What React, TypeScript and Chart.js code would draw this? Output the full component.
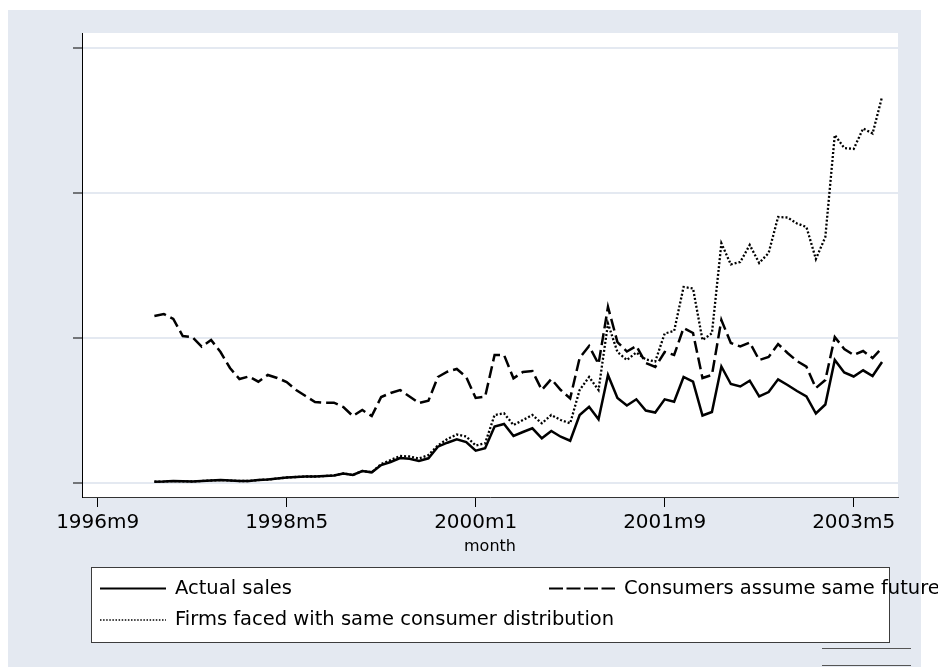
import React, { useEffect, useRef } from 'react';
import { Chart, registerables } from 'chart.js';

Chart.register(...registerables);

// Stata %tm month index (months since 1960m1); first observation is 1997m3
const START_MONTH = 446;

const seriesLabels = [
  'Actual sales',
  'Consumers assume same future',
  'Firms faced with same consumer distribution',
];

const actualSales = [
  0.28, 0.35, 0.52, 0.41, 0.35, 0.52, 0.69, 0.86, 0.69, 0.52, 0.52, 0.86, 1.04, 1.38, 1.73, 1.9, 2.07, 2.07, 2.24, 2.42, 3.11, 2.59, 3.97, 3.52,
  6.04, 7.08, 8.46, 8.22, 7.42, 8.36, 12.36, 13.74, 14.92, 13.98,
  10.98, 11.81, 19.34, 20.2, 16.06, 17.44, 18.72, 15.26, 17.78, 15.81,
  14.43, 23.31, 26.17, 21.82, 37.12, 29.18, 26.59, 28.73, 24.86, 24.17,
  28.73, 27.9, 36.43, 34.81, 23.14, 24.34, 40.05, 34.01, 33.15, 35.15,
  29.7, 31.25, 35.63, 33.67, 31.6, 29.7, 23.83, 26.93, 42.3, 37.98,
  36.6, 38.74, 36.77, 41.61,
];

const consumersSameFuture = [
  57.49, 58.18, 56.46, 50.59, 50.24, 46.89, 49.21, 45.06, 39.54, 35.74,
  36.6, 34.81, 37.12, 36.08, 34.7, 31.94, 29.87, 27.8, 27.55, 27.55,
  26.07, 22.96, 25.03, 22.96, 29.52, 30.9, 31.94, 29.7, 27.45, 28.25,
  36.43, 38.26, 39.19, 36.43, 29.18, 29.63, 44.03, 44.03, 35.98, 38.16,
  38.5, 31.94, 35.74, 31.94, 29.07, 42.99, 47.13, 40.92, 60.6, 48.51,
  45.23, 47.13, 41.26, 39.88, 45.06, 44.03, 53.35, 51.62, 36.08, 37.12,
  56.11, 48.17, 46.96, 48.34, 42.3, 43.34, 47.82, 44.72, 41.95, 39.99,
  32.63, 35.39, 50.24, 46.1, 44.03, 45.41, 42.99, 46.44,
];

const firmsSameDistribution = [
  0.28, 0.35, 0.52, 0.41, 0.35, 0.52, 0.69, 0.86, 0.69, 0.52, 0.52, 0.86, 1.04, 1.38, 1.73, 1.9, 2.07, 2.07, 2.24, 2.42, 3.11, 2.59, 3.97, 3.52,
  6.39, 7.77, 9.15, 8.98, 8.29, 9.5, 12.78, 15.02, 16.57, 15.88,
  12.78, 13.54, 23.31, 23.89, 19.85, 21.58, 23.31, 20.44, 23.31, 21.58,
  20.44, 31.94, 36.43, 31.94, 54.9, 45.06, 42.3, 44.89, 42.47, 41.78,
  51.45, 52.31, 67.51, 66.99, 49.21, 51.52, 82.6, 75.28, 76.14, 82.01,
  75.8, 79.25, 91.68, 91.5, 89.43, 88.22, 77.17, 84.77, 119.99, 115.5,
  115.16, 122.24, 120.51, 133.12,
];

const tickMonths = [440, 460, 480, 500, 520];
const tickLabels = ['1996m9', '1998m5', '2000m1', '2001m9', '2003m5'];
const yTicks = [0, 50, 100, 150];

const BG = '#e4e9f1';
const FONT = '"DejaVu Sans", "Liberation Sans", sans-serif';

const toPoints = (vals: number[]) => vals.map((v, i) => ({ x: START_MONTH + i, y: v }));

const bgPlugin = {
  id: 'stataBg',
  beforeDraw(chart: any) {
    const { ctx, chartArea } = chart;
    ctx.save();
    ctx.fillStyle = BG;
    ctx.fillRect(8, 10, 913, 657);
    ctx.fillStyle = '#ffffff';
    ctx.fillRect(chartArea.left, chartArea.top, chartArea.right - chartArea.left, chartArea.bottom - chartArea.top);
    ctx.restore();
  },
};

const legendPlugin = {
  id: 'stataLegend',
  afterDraw(chart: any) {
    const { ctx, chartArea } = chart;
    const left = chartArea.left + 9;
    const right = chartArea.right - 9;
    const top = chartArea.bottom + 70;
    const height = 75;
    ctx.save();
    ctx.fillStyle = '#ffffff';
    ctx.fillRect(left, top, right - left, height);
    ctx.strokeStyle = '#3c3c3c';
    ctx.lineWidth = 1;
    ctx.strokeRect(left + 0.5, top + 0.5, right - left, height);

    const ds = chart.data.datasets;
    const rows = [top + 21.5, top + 53];
    const cols = [left + 9, left + 458];
    const slots = [
      [cols[0], rows[0]],
      [cols[1], rows[0]],
      [cols[0], rows[1]],
    ];
    ds.forEach((d: any, i: number) => {
      const [x, y] = slots[i];
      ctx.beginPath();
      ctx.strokeStyle = '#000';
      ctx.lineWidth = i === 2 ? 1.6 : 2.2;
      ctx.setLineDash(i === 1 ? [14, 3.5] : i === 2 ? [1.5, 1.6] : []);
      ctx.moveTo(x, y);
      ctx.lineTo(x + 66, y);
      ctx.stroke();
      ctx.setLineDash([]);
      ctx.fillStyle = '#000';
      ctx.font = '19.5px ' + FONT;
      ctx.textBaseline = 'middle';
      ctx.textAlign = 'left';
      ctx.fillText(d.label, x + 75, y);
    });

    // small note lines at bottom right
    ctx.strokeStyle = '#555';
    ctx.lineWidth = 1;
    ctx.beginPath();
    ctx.moveTo(822, 648.5);
    ctx.lineTo(911, 648.5);
    ctx.moveTo(822, 665.5);
    ctx.lineTo(911, 665.5);
    ctx.stroke();
    ctx.restore();
  },
};

export default function App() {
  const ref = useRef<HTMLCanvasElement | null>(null);

  useEffect(() => {
    if (!ref.current) return;
    const chart = new Chart(ref.current, {
      type: 'line',
      data: {
        datasets: [
          {
            label: seriesLabels[0],
            data: toPoints(actualSales),
            borderColor: '#000',
            borderWidth: 2.5,
            pointRadius: 0,
            tension: 0,
            fill: false,
          },
          {
            label: seriesLabels[1],
            data: toPoints(consumersSameFuture),
            borderColor: '#000',
            borderWidth: 2.5,
            borderDash: [12, 5],
            pointRadius: 0,
            tension: 0,
            fill: false,
          },
          {
            label: seriesLabels[2],
            data: toPoints(firmsSameDistribution),
            borderColor: '#000',
            borderWidth: 2.3,
            borderDash: [2, 2],
            pointRadius: 0,
            tension: 0,
            fill: false,
          },
        ],
      },
      options: {
        responsive: false,
        animation: false,
        layout: { padding: { left: 73, top: 33, right: 40, bottom: 113 } },
        plugins: { legend: { display: false }, tooltip: { enabled: false } },
        scales: {
          x: {
            type: 'linear',
            min: 438.34,
            max: 524.69,
            afterBuildTicks: (s: any) => {
              s.ticks = tickMonths.map((v) => ({ value: v }));
            },
            ticks: {
              callback: (_v: any, i: number) => tickLabels[i],
              font: { family: FONT, size: 20, lineHeight: 1 },
              color: '#000',
              padding: 6,
              maxRotation: 0,
              autoSkip: false,
            },
            grid: {
              drawOnChartArea: false,
              drawTicks: true,
              tickLength: 10,
              tickColor: '#000',
              tickWidth: 1,
            },
            border: { display: true, color: '#333', width: 1 },
            title: {
              display: true,
              text: 'month',
              font: { family: FONT, size: 16, lineHeight: 1 },
              color: '#000',
              padding: { top: 0, bottom: 0 },
            },
          },
          y: {
            type: 'linear',
            min: -5.0,
            max: 155.2,
            afterBuildTicks: (s: any) => {
              s.ticks = yTicks.map((v) => ({ value: v }));
            },
            ticks: { display: false },
            grid: {
              color: BG,
              lineWidth: 2,
              drawTicks: true,
              tickLength: 9,
              tickColor: '#000',
              tickWidth: 1,
            },
            border: { display: true, color: '#000', width: 1 },
          },
        },
      },
      plugins: [bgPlugin, legendPlugin],
    } as any);
    return () => chart.destroy();
  }, []);

  return (
    <div style={{ position: 'fixed', left: 0, top: 0, width: 938, height: 668 }}>
      <canvas ref={ref} width={938} height={668} style={{ display: 'block' }} />
    </div>
  );
}
